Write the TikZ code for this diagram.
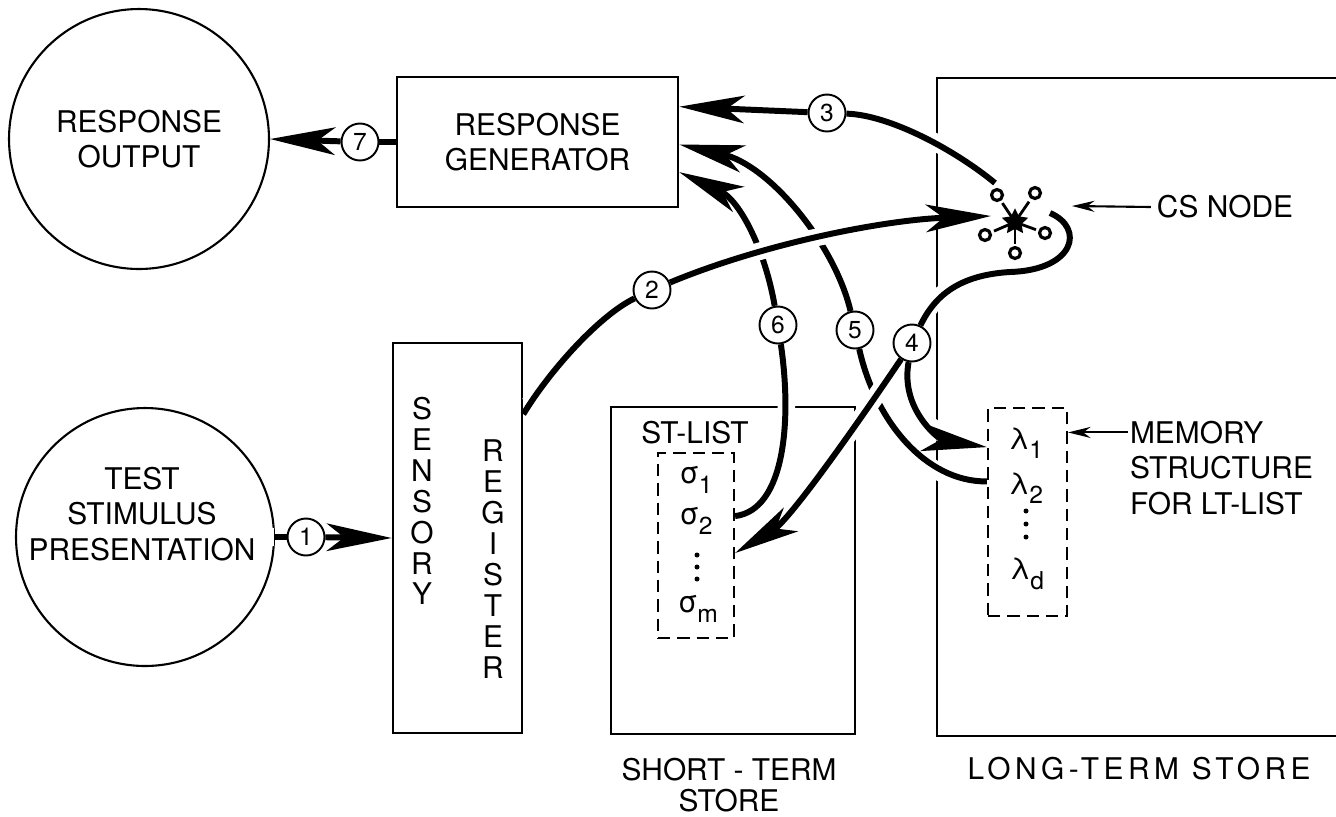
\documentclass[tikz,border=0pt]{standalone}
\usepackage{fontspec}
\setmainfont{TeX Gyre Heros}
\usetikzlibrary{arrows.meta,shapes.geometric}

\begin{document}
\begin{tikzpicture}[x=0.02cm,y=-0.02cm,
every node/.style={font=\fontsize{17}{20}\selectfont},
blk/.style={draw,line width=1.5pt,inner sep=0pt},
ring/.style={circle,draw,line width=1.2pt,inner sep=0pt},
num/.style={circle,draw,line width=1.1pt,fill=white,inner sep=0pt,minimum size=0.74cm,font=\fontsize{14}{16}\selectfont},
lst/.style={draw,line width=1.2pt,dash pattern=on 7pt off 4pt,inner sep=0pt},
item/.style={inner sep=0pt},
conn/.style={line width=3.4pt,preaction={draw=white,line width=10pt,-,shorten <=0.25cm,shorten >=0.25cm}},
arr/.style={conn,-{Stealth[length=1.3cm,width=0.55cm,inset=0.35cm]}},
ptr/.style={line width=1.2pt,-{Stealth[length=0.45cm,width=0.22cm]}}
]
\newcommand{\lsub}[1]{\raisebox{-0.6ex}{\fontsize{14}{14}\selectfont#1}}
\path[use as bounding box,fill=white] (0,0) rectangle (1336,816);

\node[ring,minimum size=5.2cm,align=center] (out) at (139,139) {RESPONSE\\OUTPUT};
\node[blk,minimum width=5.62cm,minimum height=2.6cm,align=center] (gen) at (537.5,142) {RESPONSE\\GENERATOR};
\node[ring,minimum size=5.16cm] (test) at (145,537) {};
\node[align=center] (testtxt) at (142,514) {TEST\\STIMULUS\\PRESENTATION};

\node[blk,minimum width=2.58cm,minimum height=7.8cm] (sens) at (457.5,538) {};
\node[align=center,font=\fontsize{17}{17.6}\selectfont] (sensa) at (422,501) {S\\E\\N\\S\\O\\R\\Y};
\node[align=center,font=\fontsize{17}{17.6}\selectfont] (sensb) at (493,559) {R\\E\\G\\I\\S\\T\\E\\R};

\node[blk,minimum width=4.88cm,minimum height=6.54cm] (sts) at (733,570.5) {};
\node (stlt) at (695,433) {ST-LIST};
\node[lst,minimum width=1.52cm,minimum height=3.7cm] (stl) at (696,545.5) {};
\node[item] (s1) at (696,480) {σ\lsub{1}};
\node[item] (s2) at (696,521) {σ\lsub{2}};
\node[item] (sm) at (698,609) {σ\lsub{m}};
\foreach \y in {555,567,579}
{
\fill (697,\y) circle (0.05cm);
}
\node[align=center] (stsl) at (729,785) {SHORT - TERM\\[-2pt]STORE};

\draw[blk] (1336,78) -| (937,736) -- (1336,736);
\node[lst,minimum width=1.58cm,minimum height=4.16cm] (ltl) at (1027.5,512) {};
\node[item] (l1) at (1026,443) {λ\lsub{1}};
\node[item] (l2) at (1026,488) {λ\lsub{2}};
\node[item] (ld) at (1027,574) {λ\lsub{d}};
\foreach \y in {511,524,537}
{
\fill (1026,\y) circle (0.05cm);
}
\node[align=left,inner sep=1pt,anchor=west] (mem) at (1128,468) {MEMORY\\STRUCTURE\\FOR LT-LIST};
\node (ltsl) at (1139,769) {\addfontfeature{LetterSpace=15}LONG-TERM STORE};
\node (csl) at (1225,207) {CS NODE};

\node[star,star points=5,star point ratio=2,fill,inner sep=0pt,minimum size=0.55cm] (cs) at (1015,222) {};
\foreach \dx/\dy in {-18/-27,20/-29,-30/13,30/11,0/31}
{
\draw[line width=1.6pt] (cs.center) -- ++(0.7*\dx,0.7*\dy);
\draw[line width=1.8pt,fill=white] (cs.center) ++(\dx,\dy) circle (0.11cm);
}
\coordinate (cs2) at (991,216);
\coordinate (cs3) at (995,183);
\coordinate (cs4) at (1050,213);
\coordinate (cstip) at (1072,206);

\node[num] (n1) at (306,537) {1};
\node[num] (n2) at (652,290) {2};
\node[num] (n3) at (827,113) {3};
\node[num] (n4) at (912,343) {4};
\node[num] (n5) at (855,330) {5};
\node[num] (n6) at (778,325) {6};
\node[num] (n7) at (360,142) {7};

\draw[conn] (gen.west) -- (n7);
\draw[arr] (n7) -- (out.east);
\draw[conn] (test.east) -- (n1);
\draw[arr] (n1) -- (sens.west);

\draw[conn] (stl.37) .. controls (785,510) and (792,420) .. (n6);
\draw[arr] (n6) .. controls (765,250) and (740,200) .. (gen.-12);
\draw[conn] (ltl.143) .. controls (925,482) and (875,420) .. (n5);
\draw[arr] (n5) .. controls (835,245) and (770,165) .. (gen.-1);
\draw[conn] (sens.62) .. controls (550,370) and (600,315) .. (n2);
\draw[arr] (n2) .. controls (760,245) and (880,220) .. (cs2);
\draw[conn] (cs3) .. controls (955,150) and (890,115) .. (n3);
\draw[arr] (n3) -- (gen.14);
\draw[conn] (cs4) .. controls (1085,228) and (1075,270) .. (1010,272) .. controls (960,275) and (935,295) .. (n4);
\draw[arr] (n4) .. controls (900,410) and (940,440) .. (ltl.122);
\draw[arr] (n4) .. controls (860,420) and (790,520) .. (stl.-11);

\draw[ptr] (csl.west) -- (cstip);
\draw[ptr] (mem.west |- ltl.63) -- (ltl.63);
\end{tikzpicture}
\end{document}
